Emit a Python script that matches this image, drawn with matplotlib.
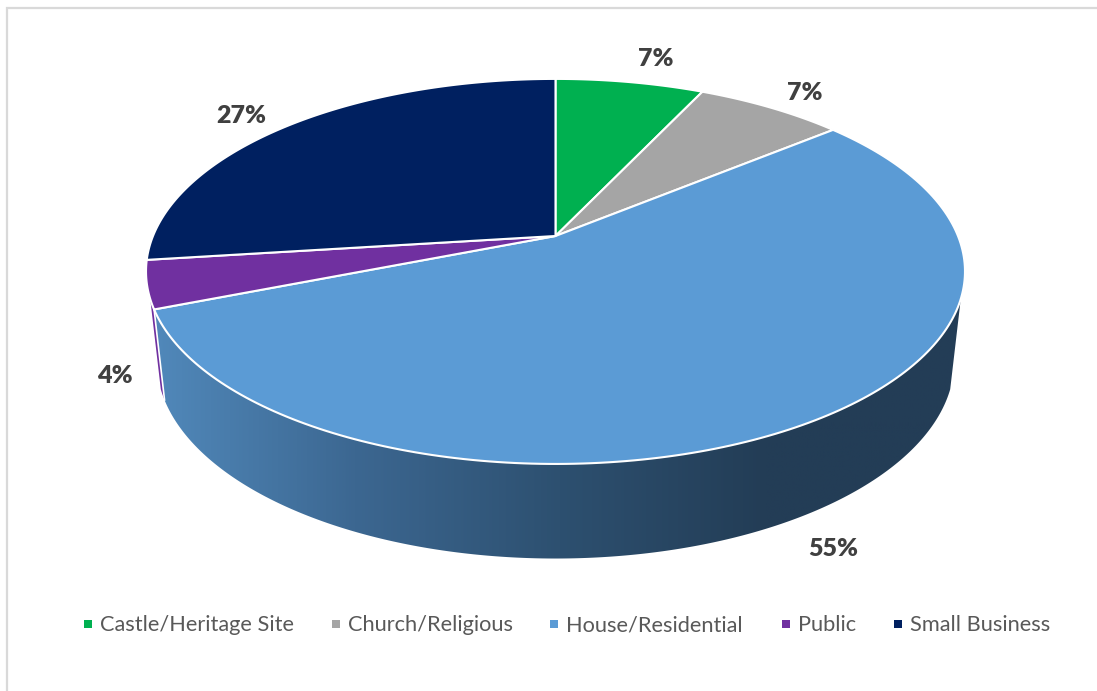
import numpy as np
import matplotlib.pyplot as plt
from matplotlib.colors import LinearSegmentedColormap
from matplotlib.patches import Polygon, Rectangle

categories = ["Castle/Heritage Site", "Church/Religious", "House/Residential", "Public", "Small Business"]
shares = [7, 7, 55, 4, 27]
colors = ["#00b050", "#a5a5a5", "#5b9bd5", "#7030a0", "#002060"]

label_xy = [(656, 59), (805, 93), (833, 549), (115, 376), (241, 116)]
legend_x = [84, 332, 550, 782, 894]

# perspective disc, in pixels: centre of the lid and of the base
K = 0.184
CX = 555.5
LID = (236.0, 402.5, 186.0)
BASE = (324.7, 392.0, 190.8)
SIDE_FROM, SIDE_TO = 108.6, 251.4


def project(deg, disc):
    cy, a, b = disc
    t = np.radians(deg)
    u, v = np.sin(t), np.cos(t)
    w = 1 + K * v
    return np.column_stack([CX + a * u / w, cy - b * v / w])


fig = plt.figure(figsize=(10.97, 6.91), dpi=100)
ax = fig.add_axes([0, 0, 1, 1])
ax.set_xlim(0, 1097)
ax.set_ylim(691, 0)
ax.axis("off")

# chart border, only left and top are in view
ax.plot([6.5, 6.5, 1097], [691, 7.5, 7.5], color="#d9d9d9", lw=1.6, solid_joinstyle="miter")

edges = 360 * np.cumsum([0] + shares) / sum(shares)
house_start, house_end = edges[2], edges[3]

# sliver of the Public wall on the far left
arc = np.linspace(house_end, SIDE_TO, 12)
sliver = np.vstack([project(arc, LID), project(arc[::-1], BASE)])
ax.add_patch(Polygon(sliver, closed=True, fc=colors[3], ec="none", zorder=2))

# House wall, shaded left to right
arc = np.linspace(SIDE_FROM, house_end, 300)
wall = Polygon(np.vstack([project(arc, LID), project(arc[::-1], BASE)]), closed=True,
               fc="none", ec="none", zorder=3)
ax.add_patch(wall)
shade = LinearSegmentedColormap.from_list("wall", ["#5189bb", "#3c6791", "#2d5070", "#233d56", "#233d56"])
img = ax.imshow(np.linspace(0, 1, 512).reshape(1, -1), cmap=shade, aspect="auto",
                extent=[150, 970, 560, 290], zorder=3)
img.set_clip_path(wall)
ax.set_xlim(0, 1097)
ax.set_ylim(691, 0)

# white seam beside the wall's left corner
ax.plot(*np.vstack([project(house_end, LID), project(house_end, BASE)]).T, color="white", lw=1.2, zorder=4)

# lid slices
for i in range(len(shares)):
    arc = np.linspace(edges[i], edges[i + 1], 200)
    pts = np.vstack([[[CX, LID[0]]], project(arc, LID)])
    ax.add_patch(Polygon(pts, closed=True, fc=colors[i], ec="white", lw=1.5, joinstyle="round", zorder=5))

# percentage labels
for share, (x, y) in zip(shares, label_xy):
    ax.text(x, y, f"{share}%", ha="center", va="center", family="Lato",
            fontsize=18, fontweight=800, color="#404040", zorder=6)

# legend
for name, color, x in zip(categories, colors, legend_x):
    ax.add_patch(Rectangle((x, 620), 8, 8, fc=color, ec="none"))
    ax.text(x + 16, 631, name, ha="left", va="baseline", family="Lato",
            fontsize=15.7, color="#595959")

fig.savefig("out.png", dpi=100)
